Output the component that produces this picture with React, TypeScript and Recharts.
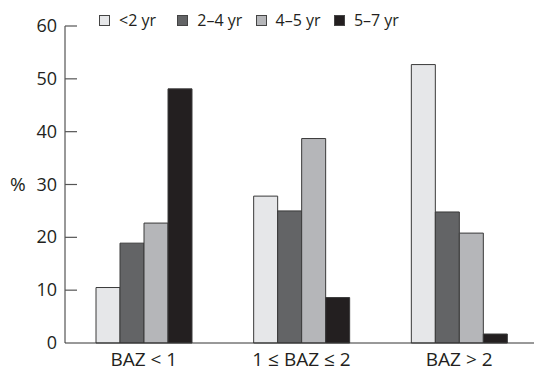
import React from 'react';
import { BarChart, Bar, XAxis, YAxis } from 'recharts';

const categories = ['BAZ < 1', '1 ≤ BAZ ≤ 2', 'BAZ > 2'];
const under2 = [10.5, 27.8, 52.7];
const age2to4 = [18.9, 25.0, 24.8];
const age4to5 = [22.7, 38.7, 20.8];
const age5to7 = [48.1, 8.6, 1.7];
const yTicks = [0, 10, 20, 30, 40, 50, 60];

const seriesNames = ['<2 yr', '2–4 yr', '4–5 yr', '5–7 yr'];
const seriesKeys = ['a', 'b', 'c', 'd'];
const seriesColors = ['#e6e7e9', '#636466', '#b5b6b9', '#231f20'];

const data = categories.map((c, i) => ({
  name: c,
  a: under2[i],
  b: age2to4[i],
  c: age4to5[i],
  d: age5to7[i],
}));

const FONT = '"Open Sans", "Noto Sans", sans-serif';
const TEXT = '#231f20';

const YTick = (props: any) => {
  const { x, y, payload } = props;
  return (
    <g>
      <text x={x} y={y} dy={6} textAnchor="end" fontSize={18} fill={TEXT} fontFamily={FONT}>
        {payload.value}
      </text>
      {payload.value !== 0 && (
        <line x1={x + 8} x2={x + 20} y1={y} y2={y} stroke="#555" strokeWidth={1.2} />
      )}
    </g>
  );
};

const LegendBox = () => (
  <div
    style={{
      position: 'absolute',
      top: 10,
      left: 99,
      display: 'flex',
      fontFamily: FONT,
      fontSize: 16,
      color: TEXT,
      lineHeight: '20px',
    }}
  >
    {seriesNames.map((n, i) => (
      <div key={n} style={{ display: 'flex', alignItems: 'center', width: 78.3 }}>
        <span
          style={{
            display: 'inline-block',
            width: 9,
            height: 9,
            background: seriesColors[i],
            border: '1px solid #444',
            marginRight: 9,
          }}
        />
        <span>{n}</span>
      </div>
    ))}
  </div>
);

export default function App() {
  return (
    <div style={{ position: 'absolute', left: 0, top: 0, width: 534, height: 371, overflow: 'hidden', background: '#fff' }}>
      <BarChart
        width={538}
        height={371}
        data={data}
        margin={{ top: 26, right: 0, bottom: 0, left: 0 }}
        barGap={0}
        barSize={24}
      >
        <XAxis
          dataKey="name"
          height={28}
          tickLine={false}
          stroke="#333"
          tick={{ fontSize: 19, fill: TEXT, fontFamily: FONT }}
          tickMargin={4}
        />
        <YAxis
          width={65}
          domain={[0, 60]}
          ticks={yTicks}
          tickLine={false}
          tickSize={0}
          tickMargin={8}
          stroke="#333"
          tick={<YTick />}
          interval={0}
          label={{ value: '%', position: 'insideLeft', offset: 10, fontSize: 19, fill: TEXT, fontFamily: FONT }}
        />
        {seriesKeys.map((k, i) => (
          <Bar
            key={k}
            dataKey={k}
            name={seriesNames[i]}
            fill={seriesColors[i]}
            stroke="#3a3a3a"
            strokeWidth={1}
            isAnimationActive={false}
          />
        ))}
      </BarChart>
      <LegendBox />
    </div>
  );
}
